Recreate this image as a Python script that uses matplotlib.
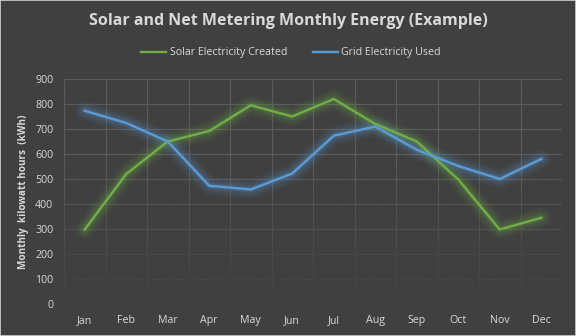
import numpy as np
import matplotlib
matplotlib.use("Agg")
import matplotlib.pyplot as plt
from matplotlib.patches import Rectangle

months = ["Jan", "Feb", "Mar", "Apr", "May", "Jun",
          "Jul", "Aug", "Sep", "Oct", "Nov", "Dec"]
solar = [298, 520, 650, 692, 795, 750, 820, 720, 650, 498, 298, 345]
grid_used = [773, 724, 650, 473, 458, 522, 673, 710, 617, 552, 500, 580]

bg = "#404040"
txt = "#d9d9d9"
green = "#70ad47"
blue = "#5b9bd5"

plt.rcParams['font.family'] = ['Open Sans', 'DejaVu Sans']

fig = plt.figure(figsize=(6, 3.5), dpi=96, facecolor=bg)
ax = fig.add_axes([64 / 576, 1 - 304 / 336, (562 - 64) / 576, (304 - 79) / 336])
ax.set_facecolor(bg)

x = np.arange(len(months))

# gridlines: horizontal at every 100, vertical between categories
ax.set_xlim(-0.5, len(months) - 0.5)
ax.set_ylim(0, 900)
ax.set_yticks(range(0, 901, 100))
ax.set_xticks(x)
ax.set_xticklabels(months)
ax.set_xticks(np.arange(-0.5, len(months)), minor=True)
ax.grid(True, axis='y', which='major', color='#5a5a5a', lw=0.9, zorder=0.5)
ax.grid(True, axis='x', which='minor', color='#5a5a5a', lw=0.9, zorder=0.5)
ax.set_axisbelow(True)

# fade the grid towards the bottom
fade = np.zeros((100, 1, 4))
rgb = matplotlib.colors.to_rgb(bg)
fade[..., 0], fade[..., 1], fade[..., 2] = rgb
fade[:, 0, 3] = np.clip(np.linspace(1.0, -0.6, 100), 0, 1) * 0.95
ax.imshow(fade, extent=(-0.5, len(months) - 0.5, 0, 900), origin='lower',
          aspect='auto', zorder=1, interpolation='bilinear')

# soft glow under each line
for vals, col in [(solar, green), (grid_used, blue)]:
    for w, a in [(15, 0.06), (11, 0.08), (7.5, 0.11), (4.5, 0.14)]:
        ax.plot(x, vals, color=col, lw=w, alpha=a, solid_capstyle='round',
                solid_joinstyle='round', zorder=2)

ax.plot(x, solar, color=green, lw=1.8, zorder=3, label='Solar Electricity Created')
ax.plot(x, grid_used, color=blue, lw=1.8, zorder=3, label='Grid Electricity Used')

for s in ax.spines.values():
    s.set_visible(False)
ax.tick_params(which='both', length=0, colors=txt, labelsize=8)
ax.tick_params(axis='x', pad=8)
ax.tick_params(axis='y', pad=8)

ax.set_ylabel("Monthly  kilowatt hours  (kWh)", color=txt, fontsize=7.5,
              fontweight='bold', labelpad=5)

fig.text(0.5, 1 - 21 / 336, "Solar and Net Metering Monthly Energy (Example)",
         ha='center', va='center', color=txt, fontsize=12, fontweight='bold')

leg = fig.legend(loc='center', bbox_to_anchor=(0.505, 1 - 53 / 336), ncol=2,
                 frameon=False, fontsize=8, handlelength=2.4, columnspacing=2.4,
                 handletextpad=0.3)
for t in leg.get_texts():
    t.set_color(txt)

fig.add_artist(Rectangle((0, 0), 1, 1, transform=fig.transFigure, fill=False,
                         edgecolor='#d9d9d9', lw=1.2))

plt.savefig('out.png', dpi=96, facecolor=bg)
